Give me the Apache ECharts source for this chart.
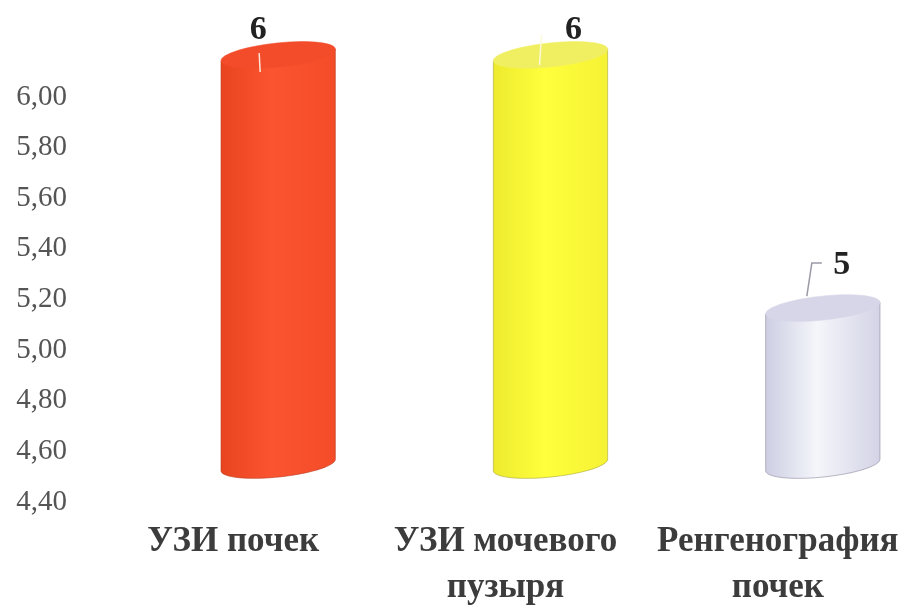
<!DOCTYPE html>
<html>
<head>
<meta charset="utf-8">
<script src="https://cdn.jsdelivr.net/npm/echarts@6/dist/echarts.min.js"></script>
<style>html,body{margin:0;padding:0;background:#fff}#c{width:910px;height:605px}</style>
</head>
<body>
<div id="c"></div>
<script>
// ---- data ----
const categories = ['УЗИ почек', 'УЗИ мочевого\nпузыря', 'Ренгенография\nпочек'];
const values = [6.02, 6.02, 5.02];
const yTicks = [4.4, 4.6, 4.8, 5.0, 5.2, 5.4, 5.6, 5.8, 6.0];

// ---- style ----
const Y_MIN = 4.4, Y_MAX = 6.0;
const DX = 45, DY = -37;          // 3D depth shift in px
const TILT = 6 * Math.PI / 180;
const RY = 12;
const palettes = [
  {side: ['#E8451F', '#FB5431', '#F44C29'], top: '#F24C2A', edge: '#B8391E'},
  {side: ['#EDEA2E', '#FFFF3C', '#F5F234'], top: '#F0EF62', edge: '#A8A63A'},
  {side: ['#CDCEE3', '#F4F6FA', '#D3D3E6'], top: '#D6D6E8', edge: '#8A8AA0'}
];
const labelShift = [[-20, -25], [23, -25], [19, -43]];
const leaders = [
  {pts: [[1, 23], [2, 42]], color: '#FFE3D6'},
  {pts: [[-32, 5], [-34, 35]], color: '#FAFAD8'},
  {pts: [[-20, -2], [-30, -2], [-35, 31]], color: '#9A9AA8'}
];

function ellPt(cx, cy, rx, ry, t) {
  const x = rx * Math.cos(t), y = ry * Math.sin(t);
  return [cx + x * Math.cos(TILT) + y * Math.sin(TILT), cy - x * Math.sin(TILT) + y * Math.cos(TILT)];
}
function ellipsePts(cx, cy, rx, ry, t0, t1, n) {
  const out = [];
  for (let k = 0; k <= n; k++) out.push(ellPt(cx, cy, rx, ry, t0 + (t1 - t0) * k / n));
  return out;
}

const chart = echarts.init(document.getElementById('c'), null, {renderer: 'canvas'});
chart.setOption({
  animation: false,
  backgroundColor: '#ffffff',
  grid: {left: 97, right: -4, top: 97, bottom: 103, containLabel: false, outerBoundsMode: 'none'},
  xAxis: {
    type: 'category',
    data: categories,
    axisLine: {show: false},
    axisTick: {show: false},
    axisLabel: {
      interval: 0,
      margin: 17,
      fontFamily: 'Liberation Serif',
      fontWeight: 'bold',
      fontSize: 35,
      lineHeight: 46,
      color: '#3C3C3C',
      verticalAlign: 'top'
    }
  },
  yAxis: {
    type: 'value',
    min: Y_MIN, max: Y_MAX, interval: 0.2,
    axisLine: {show: false},
    axisTick: {show: false},
    splitLine: {show: false},
    axisLabel: {
      margin: 30,
      fontFamily: 'Liberation Serif',
      fontSize: 29,
      color: '#555555',
      formatter: v => v.toFixed(2).replace('.', ',')
    }
  },
  series: [{
    type: 'custom',
    clip: false,
    data: values.map((v, i) => [i, v]),
    renderItem: function (params, api) {
      const i = api.value(0), v = api.value(1);
      const top = api.coord([i, v]);
      const base = api.coord([i, Y_MIN]);
      const bw = api.size([1, 0])[0] * 0.422;
      const rx = bw / 2;
      const cx = top[0] + DX;
      const cyT = top[1] + DY, cyB = base[1] + DY;
      const pal = palettes[i];
      const tr = ellPt(cx, cyT, rx, RY, 0), tl = ellPt(cx, cyT, rx, RY, Math.PI);
      const bodyPts = [tr].concat(ellipsePts(cx, cyB, rx, RY, 0, Math.PI, 40)).concat([tl]);
      const topPts = ellipsePts(cx, cyT, rx, RY, 0, 2 * Math.PI, 60);
      const grad = new echarts.graphic.LinearGradient(0, 0, 1, 0, [
        {offset: 0, color: pal.side[0]},
        {offset: 0.45, color: pal.side[1]},
        {offset: 1, color: pal.side[2]}
      ]);
      const lx = cx + labelShift[i][0], ly = cyT + labelShift[i][1];
      const ld = leaders[i];
      return {
        type: 'group',
        children: [
          {type: 'polygon', shape: {points: bodyPts}, style: {fill: grad, stroke: pal.edge, lineWidth: 0.6, opacity: 1}},
          {type: 'polygon', shape: {points: topPts}, style: {fill: pal.top, stroke: pal.top, lineWidth: 0.5}},
          {type: 'polyline', shape: {points: ld.pts.map(p => [lx + p[0], ly + p[1]])}, style: {stroke: ld.color, lineWidth: 1.5, fill: null}},
          {type: 'text', style: {
            text: String(Math.round(v)), x: lx, y: ly,
            align: 'center', verticalAlign: 'middle',
            font: 'bold 34px "Liberation Serif"', fill: '#222222'
          }}
        ]
      };
    }
  }]
});
</script>
</body>
</html>
